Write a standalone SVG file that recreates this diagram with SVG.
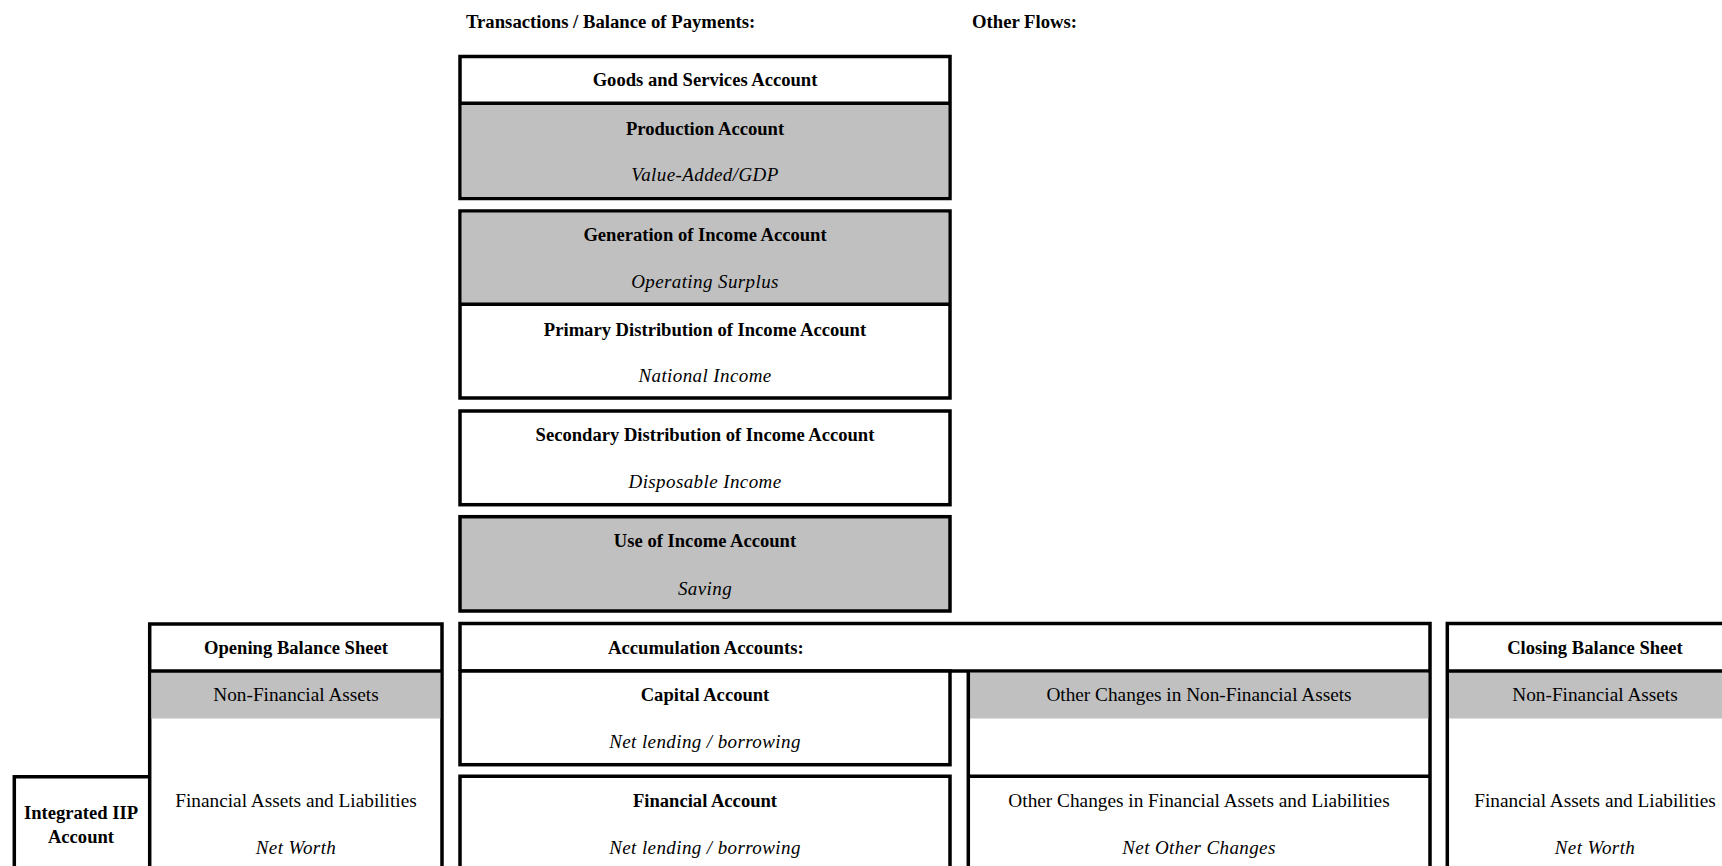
<svg xmlns="http://www.w3.org/2000/svg" width="1722" height="866" viewBox="0 0 1722 866">
<style>
.bx{fill:#FFFFFF;stroke:#000000;stroke-width:3.5}
.gr{fill:#C0C0C0;stroke:none}
.ln{stroke:#000000;stroke-width:3.5;fill:none}
text{font-family:"Liberation Serif","Times New Roman",serif;fill:#000000}
.b{font-weight:bold;font-size:18.6px;text-anchor:middle}
.bs{font-weight:bold;font-size:18.7px;text-anchor:start}
.i{font-style:italic;font-size:19px;letter-spacing:0.4px;text-anchor:middle}
.r{font-size:19.3px;text-anchor:middle}
</style>
<rect width="1722" height="866" fill="#FFFFFF"/>

<g id="headers">
<text class="bs" x="466" y="28">Transactions / Balance of Payments:</text>
<text class="bs" x="972" y="28">Other Flows:</text>
</g>

<g id="goods-production">
<rect class="bx" x="460" y="56.5" width="490" height="142"/>
<rect class="gr" x="461.75" y="103.3" width="486.5" height="93.2"/>
<line class="ln" x1="460" y1="103.3" x2="950" y2="103.3"/>
<text class="b" x="705" y="86">Goods and Services Account</text>
<text class="b" x="705" y="134.5">Production Account</text>
<text class="i" x="705" y="180.6">Value-Added/GDP</text>
</g>

<g id="generation-primary">
<rect class="bx" x="460" y="211" width="490" height="187"/>
<rect class="gr" x="461.75" y="212.75" width="486.5" height="91.5"/>
<line class="ln" x1="460" y1="304.3" x2="950" y2="304.3"/>
<text class="b" x="705" y="241">Generation of Income Account</text>
<text class="i" x="705" y="288.2">Operating Surplus</text>
<text class="b" x="705" y="335.5">Primary Distribution of Income Account</text>
<text class="i" x="705" y="381.6">National Income</text>
</g>

<g id="secondary-distribution">
<rect class="bx" x="460" y="411" width="490" height="93.7"/>
<text class="b" x="705" y="441">Secondary Distribution of Income Account</text>
<text class="i" x="705" y="488">Disposable Income</text>
</g>

<g id="use-of-income">
<rect class="bx" x="460" y="516.7" width="490" height="94.3" style="fill:#C0C0C0"/>
<text class="b" x="705" y="547.4">Use of Income Account</text>
<text class="i" x="705" y="594.6">Saving</text>
</g>

<g id="integrated-iip">
<path class="ln" d="M14.3 880 V776.7 H150" style="fill:#FFFFFF"/>
<text class="b" x="81" y="818.6">Integrated IIP</text>
<text class="b" x="81" y="842.8">Account</text>
</g>

<g id="opening-balance-sheet">
<path d="M149.7 880 V624 H442 V880" style="fill:#FFFFFF;stroke:#000;stroke-width:3.5"/>
<rect class="gr" x="151.45" y="671" width="288.8" height="47.5"/>
<line class="ln" x1="149.7" y1="671" x2="442" y2="671"/>
<text class="b" x="296" y="654">Opening Balance Sheet</text>
<text class="r" x="296" y="701.2">Non-Financial Assets</text>
<text class="r" x="296" y="806.6">Financial Assets and Liabilities</text>
<text class="i" x="296" y="853.8">Net Worth</text>
</g>

<g id="accumulation-accounts">
<path class="ln" d="M460 671 V623.5 H1430 V880"/>
<line class="ln" x1="460" y1="671" x2="1430" y2="671"/>
<text class="bs" x="608" y="654">Accumulation Accounts:</text>
</g>

<g id="capital-account">
<rect class="bx" x="460" y="671" width="490" height="93.7"/>
<text class="b" x="705" y="701.2">Capital Account</text>
<text class="i" x="705" y="748.4">Net lending / borrowing</text>
</g>

<g id="financial-account">
<path class="ln" d="M460 880 V776.3 H950 V880"/>
<text class="b" x="705" y="806.6">Financial Account</text>
<text class="i" x="705" y="853.8">Net lending / borrowing</text>
</g>

<g id="other-changes">
<rect class="gr" x="970" y="672.75" width="458.25" height="45.75"/>
<line class="ln" x1="968.3" y1="671" x2="968.3" y2="880"/>
<line class="ln" x1="968.3" y1="776.3" x2="1430" y2="776.3"/>
<text class="r" x="1199" y="701.2">Other Changes in Non-Financial Assets</text>
<text class="r" x="1199" y="806.6">Other Changes in Financial Assets and Liabilities</text>
<text class="i" x="1199" y="853.8">Net Other Changes</text>
</g>

<g id="closing-balance-sheet">
<path d="M1447.3 880 V623.5 H1760 V880" style="fill:#FFFFFF;stroke:#000;stroke-width:3.5"/>
<rect class="gr" x="1449" y="671" width="300" height="47.5"/>
<line class="ln" x1="1447.3" y1="671" x2="1760" y2="671"/>
<text class="b" x="1595" y="654">Closing Balance Sheet</text>
<text class="r" x="1595" y="701.2">Non-Financial Assets</text>
<text class="r" x="1595" y="806.6">Financial Assets and Liabilities</text>
<text class="i" x="1595" y="853.8">Net Worth</text>
</g>

<g id="connectors"></g>
</svg>
